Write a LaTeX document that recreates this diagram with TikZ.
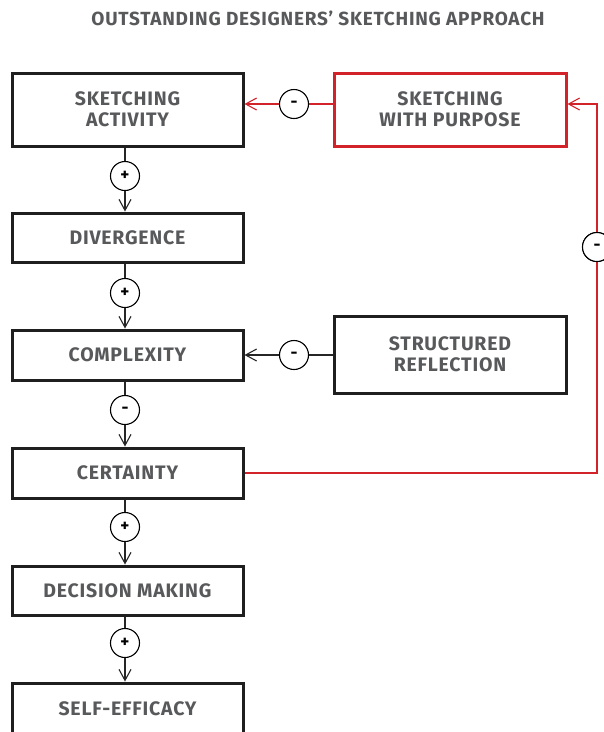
\documentclass[tikz,border=0pt]{standalone}
\usepackage{fontspec}
\setmainfont{Fira Sans}[LetterSpace=4]
\usetikzlibrary{arrows.meta}
\definecolor{labelgray}{HTML}{58595B}
\definecolor{loopred}{HTML}{D2232A}
\tikzset{
  stage/.style={draw=black!88, line width=3pt, minimum width=231pt, align=center,
    font=\bfseries\fontsize{19.5}{21}\selectfont, text=labelgray, inner sep=0pt},
  redstage/.style={stage, draw=loopred},
  sign/.style={circle, draw=black, line width=1.1pt, minimum size=29pt, inner sep=0pt,
    fill=white, font=\bfseries\fontsize{17}{17}\selectfont},
  link/.style={line width=1.2pt, draw=black!85},
  redlink/.style={line width=1.4pt, draw=loopred},
  tip/.style={-{Straight Barb[length=11pt,width=12pt,line width=1.1pt]}},
}
\begin{document}
\begin{tikzpicture}[x=1pt,y=-1pt]
\useasboundingbox (0,0) rectangle (604,732);
\fill[white] (0,0) rectangle (604,732);

\node (title) at (318,18) [font=\bfseries\fontsize{19}{21}\selectfont, text=labelgray] {OUTSTANDING DESIGNERS’ SKETCHING APPROACH};

% main chain of stages
\node[stage, minimum height=73pt] (sa) at (127.5,109.5) {SKETCHING\\ACTIVITY};
\node[stage, minimum height=49pt] (dv) at (127.5,237.5) {DIVERGENCE};
\node[stage, minimum height=50pt] (cx) at (127.5,355) {COMPLEXITY};
\node[stage, minimum height=50pt] (ce) at (127.5,473) {CERTAINTY};
\node[stage, minimum height=49pt] (dm) at (127.5,590.5) {DECISION MAKING};
\node[stage, minimum height=52pt] (se) at (127.5,709) {SELF-EFFICACY};

% side stages
\node[redstage, minimum width=232pt, minimum height=73pt] (sp) at (450,109.5) {SKETCHING\\WITH PURPOSE};
\node[stage, minimum width=232pt, minimum height=77pt] (sr) at (450,354.5) {STRUCTURED\\REFLECTION};

% polarity markers
\node[sign] (s1) at (125,176) {+};
\node[sign] (s2) at (125,293) {+};
\node[sign] (s3) at (125,410) {-};
\node[sign] (s4) at (125,527) {+};
\node[sign] (s5) at (125,643) {+};
\node[sign] (s6) at (294,104) {-};
\node[sign] (s7) at (294,355) {-};
\node[sign] (s8) at (597,247) {-};

% vertical links
\draw[link] (s1 |- sa.south) -- (s1.north);
\draw[link, tip] (s1.south) -- (s1 |- dv.north);
\draw[link] (s2 |- dv.south) -- (s2.north);
\draw[link, tip] (s2.south) -- (s2 |- cx.north);
\draw[link] (s3 |- cx.south) -- (s3.north);
\draw[link, tip] (s3.south) -- (s3 |- ce.north);
\draw[link] (s4 |- ce.south) -- (s4.north);
\draw[link, tip] (s4.south) -- (s4 |- dm.north);
\draw[link] (s5 |- dm.south) -- (s5.north);
\draw[link, tip] (s5.south) -- (s5 |- se.north);

% side links
\draw[redlink] (sp.west |- s6) -- (s6.east);
\draw[redlink, tip] (s6.west) -- (sa.east |- s6);
\draw[link] (sr.west |- s7) -- (s7.east);
\draw[link, tip] (s7.west) -- (cx.east |- s7);

% feedback loop from certainty
\coordinate (lb) at (597,473);
\coordinate (lt) at (597,104);
\draw[redlink] (ce.east |- lb) -- (lb) -- (s8.south);
\draw[redlink, tip] (s8.north) -- (lt) -- (sp.east |- lt);
\node[sign] at (s8) {-};
\end{tikzpicture}
\end{document}
